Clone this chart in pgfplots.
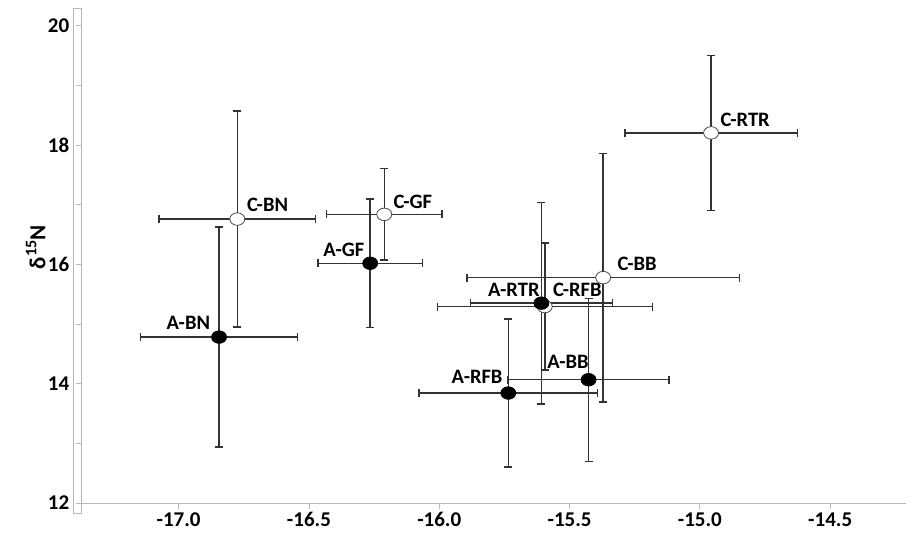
\documentclass[border=0pt]{standalone}
\usepackage{pgfplots}
\pgfplotsset{compat=1.18}
\usepackage{pgfplotstable}
\usepackage{fontspec}
\setmainfont{Carlito}
\pgfplotstableread{
x y ex ey
-16.775 16.761 0.301 1.813
-16.211 16.840 0.222 0.764
-15.371 15.779 0.522 2.085
-15.595 15.294 0.4125 1.065
-14.957 18.206 0.331 1.297
}\Cdata
\pgfplotstableread{
x y ex ey
-16.845 14.782 0.301 1.846
-16.265 16.020 0.201 1.076
-15.608 15.351 0.272 1.690
-15.427 14.067 0.309 1.367
-15.735 13.844 0.343 1.241
}\Adata
\definecolor{axgray}{HTML}{B8B8B8}
\definecolor{bargray}{HTML}{333333}
\begin{document}
\begin{tikzpicture}
\useasboundingbox (-81.7pt,-48pt) rectangle (824.3pt,503pt);
\begin{axis}[
  at={(0,0)}, anchor=south west,
  scale only axis, width=824.3pt, height=495pt,
  xmin=-17.372, xmax=-14.209, ymin=12, ymax=20.3,
  axis x line=bottom, axis y line=left,
  axis line style={-, color=axgray, line width=0.8pt},
  clip=false,
  xtick={-17,-16.5,-16,-15.5,-15,-14.5},
  xticklabels={-17.0,-16.5,-16.0,{\raisebox{-1pt}{-15.5}},{\raisebox{-4pt}{-15.0}},{\raisebox{-3pt}{-14.5}}},
  ytick={12,14,16,18,20},
  minor ytick={13,15,17,19},
  tick align=outside,
  major tick length=6pt, minor tick length=6pt,
  tick style={color=axgray, line width=0.8pt},
  /pgf/number format/assume math mode=true,
  ticklabel style={font=\fontsize{21}{21}\selectfont\bfseries, text=black},
  yticklabel style={xshift=-3pt},
  ylabel={\textbf{δ\textsuperscript{15}N}},
  every axis y label/.style={at={([xshift=-46pt]rel axis cs:0,0.517)}, anchor=center, rotate=90, font=\fontsize{23}{23}\selectfont\bfseries},
]
\draw[axgray, line width=0.8pt] ([xshift=-8.7pt,yshift=-10pt]rel axis cs:0,0) rectangle (rel axis cs:0,1);
\addplot[only marks, mark=*, mark size=6.8pt,
  mark options={fill=white, draw=black!70, line width=0.8pt, xscale=1.1, yscale=0.92},
  error bars/.cd, x dir=both, x explicit, y dir=both, y explicit,
  error bar style={line width=1.4pt, color=bargray},
  error mark options={rotate=90, mark size=4pt, line width=1.4pt, color=bargray}]
  table[x=x, y=y, x error=ex, y error=ey] {\Cdata};
\addplot[only marks, mark=*, mark size=6.8pt,
  mark options={fill=black, draw=black, line width=0.8pt, xscale=1.1, yscale=0.92},
  error bars/.cd, x dir=both, x explicit, y dir=both, y explicit,
  error bar style={line width=1.4pt, color=bargray},
  error mark options={rotate=90, mark size=4pt, line width=1.4pt, color=bargray}]
  table[x=x, y=y, x error=ex, y error=ey] {\Adata};
\begin{scope}[every node/.style={font=\fontsize{20.5}{20.5}\selectfont\bfseries, inner sep=0pt}]
\node at (axis cs:-16.659,16.996) {C-BN};
\node at (axis cs:-16.101,17.051) {C-GF};
\node at (axis cs:-16.366,16.248) {A-GF};
\node at (axis cs:-16.963,15.021) {A-BN};
\node at (axis cs:-15.241,16.008) {C-BB};
\node at (axis cs:-15.714,15.573) {A-RTR};
\node at (axis cs:-15.470,15.573) {C-RFB};
\node at (axis cs:-15.506,14.360) {A-BB};
\node at (axis cs:-15.855,14.117) {A-RFB};
\node at (axis cs:-14.826,18.423) {C-RTR};
\end{scope}
\end{axis}
\end{tikzpicture}
\end{document}
